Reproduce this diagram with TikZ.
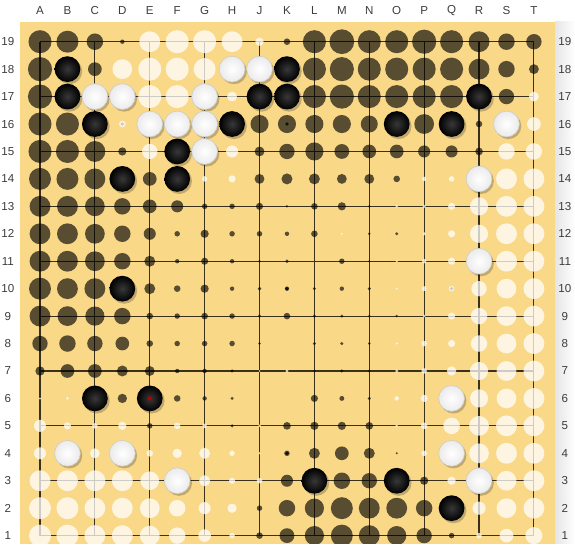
\documentclass[tikz,border=0pt]{standalone}
\usepackage{fontspec}
\setmainfont{Liberation Sans}
\usepackage{xcolor}
\usepackage{tikz}
\usetikzlibrary{calc}

\definecolor{boardwood}{RGB}{249,216,136}
\definecolor{gridink}{RGB}{58,48,30}
\definecolor{labelink}{RGB}{60,60,60}

\begin{document}
\begin{tikzpicture}[
  x=0.5cm, y=0.5cm,
  gridline/.style={gridink, line width=0.6pt},
  lab/.style={font=\fontsize{6}{7}\selectfont, text=labelink},
  bown/.style={fill=black, fill opacity=0.64},
  wown/.style={fill=white, fill opacity=0.75},
  stoneshadow/.style={fill=black, fill opacity=0.22},
  blackstone/.style={inner color=black!78, outer color=black},
  whitestone/.style={inner color=white, outer color=black!8, draw=black!20, line width=0.3pt}
]
\useasboundingbox (-1.458,-0.558) rectangle (19.497,19.52);
\coordinate (SW) at (-0.729,-0.30);
\coordinate (NE) at (18.77,18.72);

\shade[left color=black!10, right color=white] (18.77,-0.30) rectangle (19.497,18.72);
\fill[boardwood] (SW) rectangle (NE);
\draw[gridline] (0,0) grid (18,18);
\foreach \hx in {3,9,15}
  \foreach \hy in {3,9,15}
    \fill[gridink] (\hx,\hy) circle (0.07);

\foreach \c [count=\i from 0] in {A,B,C,D,E,F,G,H,J,K,L,M,N,O,P,Q,R,S,T}
  \node[lab] at (\i,19.12) {\c};
\foreach \r in {1,...,19} {
  \node[lab] at (-1.17,\r-1) {\r};
  \node[lab] at (19.13,\r-1) {\r};
}

\begin{scope}
\clip (SW) rectangle (NE);
\foreach \vals [count=\j] in {%
  {42,40,30,8,-38,-42,-42,-38,-15,12,42,45,42,42,44,42,38,30,28},%
  {44,0,25,-36,-42,-42,-40,0,0,0,42,44,42,42,42,42,38,30,18},%
  {44,0,0,0,-42,-42,0,-18,0,0,42,44,42,42,42,42,0,28,-18},%
  {42,42,0,-12,0,0,0,0,33,33,33,33,31,0,36,0,12,0,-25},%
  {42,42,38,15,-28,0,0,-22,18,28,33,27,25,25,22,22,14,-30,-30},%
  {40,40,38,0,25,0,-10,-13,18,20,20,18,18,12,-8,-10,0,-38,-38},%
  {38,38,36,30,25,22,10,10,13,5,12,15,5,-5,-6,-13,-33,-38,-38},%
  {38,38,36,30,22,10,15,10,10,8,12,-4,5,6,-6,-13,-33,-38,-38},%
  {38,38,36,30,20,8,13,8,5,7,0,10,4,-4,-8,-13,0,-38,-38},%
  {40,38,38,0,20,12,15,8,7,8,6,8,6,-4,-9,-10,-28,-36,-38},%
  {38,36,35,30,12,10,12,10,6,12,6,6,5,5,-5,-13,-30,-36,-38},%
  {28,30,28,25,12,10,10,10,5,0,6,6,5,-4,-10,-13,-30,-36,-38},%
  {17,25,25,20,18,8,8,6,-3,-6,5,6,5,-6,-10,-17,-33,-36,-38},%
  {-4,-5,0,17,0,12,8,6,0,0,13,9,6,-8,-13,0,-33,-36,-38},%
  {-22,-13,-10,-15,10,-12,-8,6,-5,14,15,15,14,-5,-12,-30,-36,-38,-38},%
  {-22,0,-18,0,-12,-17,-20,-10,-4,10,20,25,20,4,-10,0,-36,-38,-38},%
  {-38,-38,-38,-38,-34,0,-20,-11,-10,22,0,30,28,0,15,-15,0,-36,-38},%
  {-40,-40,-38,-38,-36,-30,-22,-17,10,30,35,40,38,38,30,0,-24,-36,-38},%
  {-40,-40,-38,-38,-36,-30,-23,-10,12,27,35,40,38,35,28,10,-10,-25,-31}%
} {
  \foreach \v [count=\i from 0] in \vals {
    \pgfmathsetmacro{\rr}{abs(\v)/100}
    \ifnum\v>0 \fill[bown] (\i,19-\j) circle (\rr); \fi
    \ifnum\v<0 \fill[wown] (\i,19-\j) circle (\rr); \fi
  }
}
\end{scope}

\foreach \sx/\sy in {1/17,9/17,1/16,8/16,9/16,16/16,2/15,7/15,13/15,15/15,5/14,3/13,5/13,3/9,2/5,4/5,10/2,13/2,15/1} {
  \fill[stoneshadow] (\sx+0.07,\sy-0.08) circle (0.47);
  \shade[blackstone] (\sx,\sy) circle (0.47);
}
\foreach \sx/\sy in {7/17,8/17,2/16,3/16,6/16,4/15,5/15,6/15,17/15,6/14,16/13,16/10,15/5,1/3,3/3,15/3,5/2,16/2} {
  \fill[stoneshadow] (\sx+0.07,\sy-0.08) circle (0.47);
  \shade[whitestone] (\sx,\sy) circle (0.47);
}
\fill[red!70!black] (4,5) circle (0.08);
\end{tikzpicture}
\end{document}
